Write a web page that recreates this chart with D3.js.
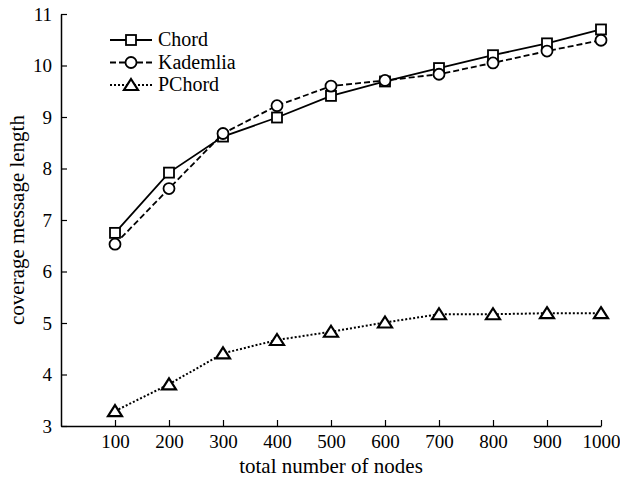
<!DOCTYPE html>
<html>
<head>
<meta charset="utf-8">
<script src="https://cdn.jsdelivr.net/npm/d3@7"></script>
<style>
  body { margin: 0; background: #fff; }
  svg text { font-family: "Liberation Serif", "Times New Roman", serif; fill: #000; }
</style>
</head>
<body>
<svg id="chart" width="620" height="479"></svg>
<script>
var nodes = [100, 200, 300, 400, 500, 600, 700, 800, 900, 1000]
var chord = [6.75, 7.92, 8.62, 8.99, 9.41, 9.69, 9.95, 10.2, 10.43, 10.7]
var kademlia = [6.53, 7.61, 8.68, 9.22, 9.6, 9.71, 9.83, 10.05, 10.28, 10.49]
var pchord = [3.29, 3.81, 4.41, 4.67, 4.83, 5.01, 5.17, 5.17, 5.19, 5.19]
var yTicks = [3, 4, 5, 6, 7, 8, 9, 10, 11]

var svg = d3.select("#chart")
var margin = {left: 61, top: 14}

var x = d3.scaleLinear()
    .domain([0, 1000])
    .range([margin.left, 601])

var y = d3.scaleLinear()
    .domain([3, 11])
    .range([426, margin.top])

// axes
var xAxis = svg.append("g")
    .attr("transform", "translate(0,426)")
    .call(d3.axisBottom(x).tickValues(nodes).tickFormat(d3.format("d"))
        .tickSizeInner(-6).tickSizeOuter(0).tickPadding(9))
xAxis.attr("font-family", null)
xAxis.select(".domain").attr("stroke-width", 1.5)
xAxis.selectAll(".tick line").attr("stroke-width", 1.2)
xAxis.selectAll("text").style("font-size", "19px")

var yAxis = svg.append("g")
    .attr("transform", "translate(" + margin.left + ",0)")
    .call(d3.axisLeft(y).tickValues(yTicks).tickSizeInner(-6).tickSizeOuter(0).tickPadding(9))
yAxis.attr("font-family", null)
yAxis.select(".domain").attr("stroke-width", 1.5)
yAxis.selectAll(".tick line").attr("stroke-width", 1.2)
yAxis.selectAll("text").style("font-size", "19px")

svg.append("text")
    .attr("x", 331)
    .attr("y", 473)
    .attr("text-anchor", "middle")
    .style("font-size", "21px")
    .text("total number of nodes")

svg.append("text")
    .attr("transform", "translate(24,220) rotate(-90)")
    .attr("text-anchor", "middle")
    .style("font-size", "21px")
    .text("coverage message length")

var series = [
    {name: "Chord", values: chord, dash: null, marker: "square"},
    {name: "Kademlia", values: kademlia, dash: "6,3", marker: "circle"},
    {name: "PChord", values: pchord, dash: "2,2", marker: "triangle"}
]

var line = d3.line()
    .x((d, i) => x(nodes[i]))
    .y(d => y(d))

function drawMarker(g, type, cx, cy) {
    if (type == "square") {
        g.append("rect")
            .attr("x", cx - 5).attr("y", cy - 5)
            .attr("width", 10).attr("height", 10)
            .attr("fill", "white").attr("stroke", "black").attr("stroke-width", 1.8)
    } else if (type == "circle") {
        g.append("circle")
            .attr("cx", cx).attr("cy", cy).attr("r", 5.5)
            .attr("fill", "white").attr("stroke", "black").attr("stroke-width", 1.8)
    } else {
        g.append("path")
            .attr("d", "M" + cx + "," + (cy - 6) + "L" + (cx + 7) + "," + (cy + 5) + "L" + (cx - 7) + "," + (cy + 5) + "Z")
            .attr("fill", "white").attr("stroke", "black").attr("stroke-width", 2.2)
    }
}

series.forEach(s => {
    svg.append("path")
        .datum(s.values)
        .attr("d", line)
        .attr("fill", "none")
        .attr("stroke", "black")
        .attr("stroke-width", s.marker == "triangle" ? 2 : 1.8)
        .attr("stroke-dasharray", s.dash)
    var g = svg.append("g")
    s.values.forEach((v, i) => drawMarker(g, s.marker, x(nodes[i]), y(v)))
})

// legend
var legend = svg.append("g")
series.forEach((s, i) => {
    var ly = 40 + i * 22.5
    legend.append("line")
        .attr("x1", 110).attr("x2", 152)
        .attr("y1", ly).attr("y2", ly)
        .attr("stroke", "black")
        .attr("stroke-width", 1.8)
        .attr("stroke-dasharray", s.dash)
    drawMarker(legend, s.marker, 131, ly)
    legend.append("text")
        .attr("x", 158)
        .attr("y", ly + 6)
        .style("font-size", "20px")
        .text(s.name)
})
</script>
</body>
</html>
